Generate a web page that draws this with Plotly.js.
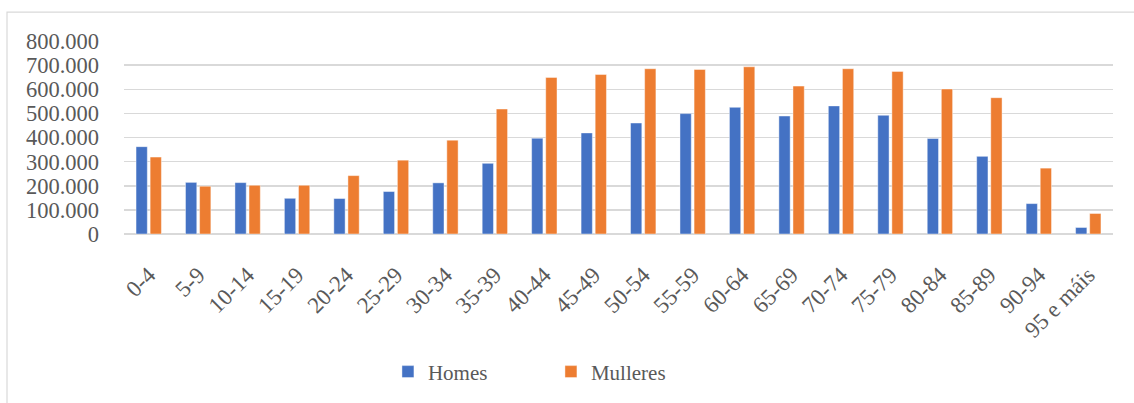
<!DOCTYPE html>
<html>
<head>
<meta charset="utf-8">
<script src="https://cdn.plot.ly/plotly-3.0.1.min.js"></script>
<style>
  html, body { margin: 0; padding: 0; background: #fff; }
  #chart { width: 1134px; height: 403px; }
</style>
</head>
<body>
<div id="chart"></div>
<script>
// Age groups
const ageGroups = ['0-4', '5-9', '10-14', '15-19', '20-24', '25-29', '30-34', '35-39',
  '40-44', '45-49', '50-54', '55-59', '60-64', '65-69', '70-74', '75-79',
  '80-84', '85-89', '90-94', '95 e máis'];

// Population by sex
const homes = [362000, 214000, 213000, 148000, 147000, 176000, 212000, 293000,
  397000, 419000, 460000, 499000, 525000, 489000, 531000, 492000,
  396000, 322000, 126000, 27000];
const mulleres = [319000, 198000, 202000, 202000, 242000, 306000, 389000, 518000,
  649000, 661000, 685000, 682000, 693000, 613000, 685000, 674000,
  601000, 565000, 273000, 85000];

const seriesNames = ['Homes', 'Mulleres'];
const seriesColors = ['#4472C4', '#ED7D31'];

const textFont = { family: '"Liberation Serif", "Times New Roman", serif', color: '#595959' };

const traces = [homes, mulleres].map((vals, i) => ({
  type: 'bar',
  name: seriesNames[i],
  x: ageGroups,
  y: vals,
  marker: { color: seriesColors[i], line: { color: 'rgba(255,255,255,0.55)', width: 0.8 } },
  hoverinfo: 'x+y+name'
}));

const layout = {
  width: 1134,
  height: 403,
  margin: { l: 124, r: 21, t: 41, b: 168 },
  paper_bgcolor: '#ffffff',
  plot_bgcolor: '#ffffff',
  separators: ',.',
  barmode: 'group',
  bargap: 0.43,
  bargroupgap: 0.2,
  showlegend: true,
  legend: {
    orientation: 'h',
    x: 0.4317, xanchor: 'center',
    y: -0.706, yanchor: 'middle',
    font: Object.assign({ size: 21 }, textFont),
    entrywidth: 118,
    traceorder: 'normal'
  },
  xaxis: {
    type: 'category',
    tickangle: -45,
    tickfont: Object.assign({ size: 23 }, textFont),
    ticklabelstandoff: 22,
    showgrid: false,
    showline: false,
    zeroline: false,
    ticks: ''
  },
  yaxis: {
    range: [0, 800000],
    dtick: 100000,
    tick0: 0,
    tickformat: ',d',
    tickfont: Object.assign({ size: 22.5 }, textFont),
    ticklabelstandoff: 24,
    showgrid: true,
    gridcolor: '#D9D9D9',
    gridwidth: 1.5,
    zeroline: true,
    zerolinecolor: '#D9D9D9',
    zerolinewidth: 1.5,
    showline: false,
    ticks: ''
  },
  shapes: [{
    // chart area frame
    type: 'rect',
    xref: 'paper', yref: 'paper',
    x0: -0.1183, x1: 1.03,
    y0: -0.95, y1: 1.1495,
    line: { color: '#D9D9D9', width: 1.2 },
    fillcolor: 'rgba(0,0,0,0)',
    layer: 'below'
  }]
};

Plotly.newPlot('chart', traces, layout, { displayModeBar: false, staticPlot: true });
</script>
</body>
</html>
